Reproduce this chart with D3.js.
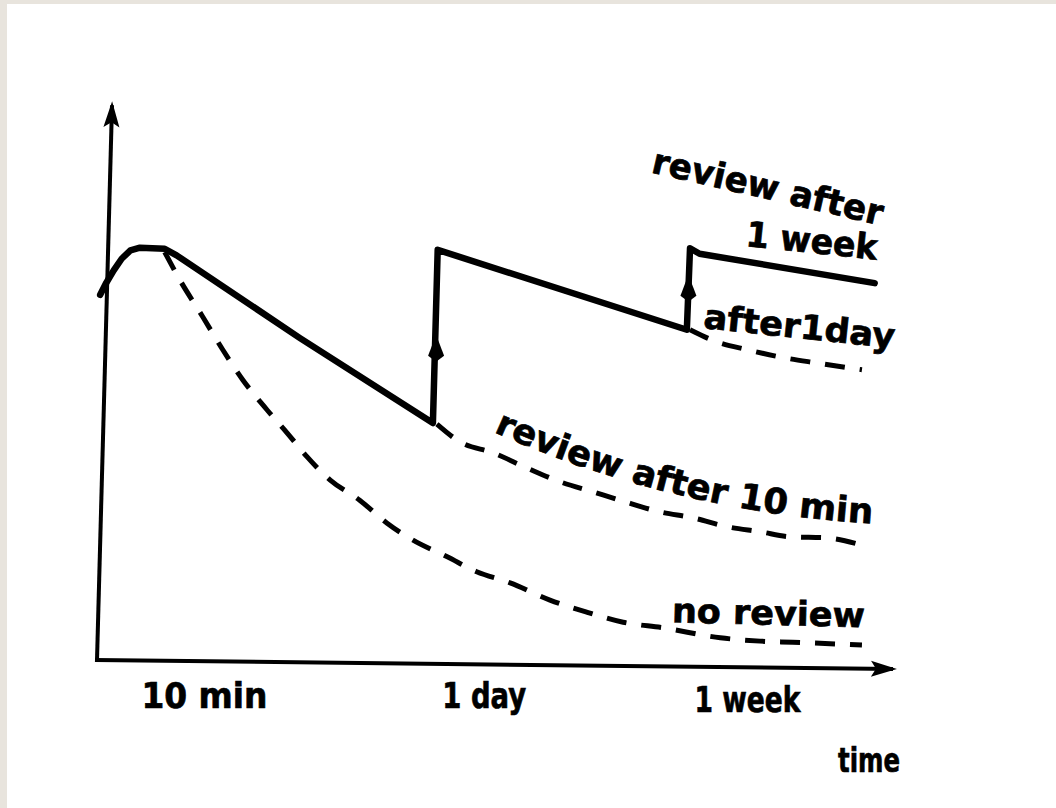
<!DOCTYPE html>
<html>
<head>
<meta charset="utf-8">
<script src="https://cdn.jsdelivr.net/npm/d3@7"></script>
<style>
  html, body { margin: 0; padding: 0; background: #e8e4dd; }
  svg { display: block; }
  text { font-family: "DejaVu Sans", "Liberation Sans", sans-serif; font-weight: bold; fill: #000; stroke: #000; stroke-width: 0.7px; }
</style>
</head>
<body>
<script>
// ---------- data (time in arbitrary plot units, retention in %) ----------
const tickTimes  = [0.54, 4.28, 7.45];
const tickLabels = ["10 min", "1 day", "1 week"];
const axisTitle  = "time";

// solid: learning + reviews after 10 min, 1 day, 1 week
const reviewedCurve = [
  [0.04, 65.8], [0.11, 67.8], [0.21, 70.2], [0.31, 72.3], [0.42, 73.8],
  [0.54, 74.3], [0.85, 74.1], [1.00, 72.9],
  [2.55, 58.0], [4.22, 42.7], [4.28, 73.9], [7.41, 59.5], [7.45, 74.2],
  [7.57, 73.2], [9.77, 67.9]
];
// dashed: no review
const noReview = [
  [0.85, 73.5], [1.04, 68.5], [1.33, 61.8], [1.58, 55.9], [1.83, 50.5],
  [2.14, 45.0], [2.39, 40.9], [2.64, 36.6], [2.93, 32.4], [3.30, 28.8],
  [3.64, 24.7], [3.97, 21.6], [4.40, 18.6], [4.77, 15.9], [5.19, 13.9],
  [5.69, 10.8], [6.16, 8.6], [6.61, 6.8], [7.11, 5.8], [7.83, 4.0],
  [8.33, 3.4], [8.74, 3.2], [9.61, 2.7]
];
// dashed: review after 10 min only
const after10Min = [
  [4.27, 42.5], [4.56, 39.3], [4.98, 37.3], [5.40, 34.6], [5.82, 32.1],
  [6.23, 30.3], [6.57, 28.8], [7.07, 26.7], [7.49, 25.6], [7.92, 24.0],
  [8.33, 23.1], [8.71, 22.2], [9.17, 22.0], [9.61, 20.7]
];
// dashed: review after 1 day (no week review)
const after1Day = [
  [7.45, 59.5], [7.79, 57.3], [8.17, 55.9], [8.58, 54.6], [9.05, 53.5], [9.61, 52.3]
];
// upward arrow marks on the review jumps
const jumpMarks = [[4.26, 55.9], [7.43, 66.7]];

const curveLabels = ["review after", "1 week", "after1day", "review after 10 min", "no review"];

// ---------- drawing ----------
const W = 1056, H = 808;
const svg = d3.select("body").append("svg").attr("width", W).attr("height", H);
svg.append("rect").attr("width", W).attr("height", H).attr("fill", "#e8e4dd");
svg.append("rect").attr("x", 7).attr("y", 4).attr("width", W - 7).attr("height", H - 4).attr("fill", "#fff");

const x = d3.scaleLinear().domain([0, 10]).range([97, 893]);
const y = d3.scaleLinear().domain([0, 100]).range([660, 105]);

const defs = svg.append("defs");
defs.append("marker")
  .attr("id", "axisArrow")
  .attr("markerUnits", "userSpaceOnUse")
  .attr("viewBox", "-2 -10 30 20")
  .attr("markerWidth", 30).attr("markerHeight", 20)
  .attr("refX", 22).attr("refY", 0)
  .attr("orient", "auto")
  .append("path").attr("d", "M0,-8 L26,0 L0,8 L5,0 Z").attr("fill", "#000");

// axes lines (scan is slightly tilted)
const axisLine = d3.line();
svg.append("path")
  .attr("d", axisLine([[x(0), y(0) + 2], [x(0), y(100)]]))
  .attr("transform", `rotate(1.55, ${x(0)}, ${y(0)})`)
  .attr("stroke", "#000").attr("stroke-width", 4).attr("fill", "none")
  .attr("marker-end", "url(#axisArrow)");
svg.append("path")
  .attr("d", axisLine([[x(0) - 2, y(0)], [x(10), y(0)]]))
  .attr("transform", `rotate(0.65, ${x(0)}, ${y(0)})`)
  .attr("stroke", "#000").attr("stroke-width", 4).attr("fill", "none")
  .attr("marker-end", "url(#axisArrow)");

// tick labels through d3 axis
const xAxis = d3.axisBottom(x)
  .tickValues(tickTimes)
  .tickFormat((d, i) => tickLabels[i])
  .tickSize(0);
const gx = svg.append("g").attr("transform", `translate(0, ${y(0)})`).call(xAxis);
gx.select(".domain").remove();
const tickLens = [126, 84, 106];
const tickDx = [1, 4, 4];
const tickY = [48, 48, 52];
gx.selectAll(".tick text")
  .attr("y", (d, i) => tickY[i]).attr("dy", 0)
  .attr("dx", (d, i) => tickDx[i])
  .attr("text-anchor", "start")
  .attr("font-size", 35)
  .attr("font-family", "DejaVu Sans")
  .attr("font-weight", "bold")
  .attr("fill", "#000")
  .attr("textLength", (d, i) => tickLens[i])
  .attr("lengthAdjust", "spacingAndGlyphs");

svg.append("text")
  .attr("x", x(9.31)).attr("y", y(-20.2))
  .attr("font-size", 33)
  .attr("textLength", 62).attr("lengthAdjust", "spacingAndGlyphs")
  .text(axisTitle);

// curves
const solidLine = d3.line().x(d => x(d[0])).y(d => y(d[1])).curve(d3.curveLinear);
const dashLine = d3.line().x(d => x(d[0])).y(d => y(d[1])).curve(d3.curveMonotoneX);

[noReview, after10Min, after1Day].forEach(series => {
  svg.append("path")
    .attr("d", dashLine(series))
    .attr("fill", "none").attr("stroke", "#000")
    .attr("stroke-width", 5)
    .attr("stroke-dasharray", "20 15")
    .attr("stroke-linecap", "butt");
});

svg.append("path")
  .attr("d", solidLine(reviewedCurve))
  .attr("fill", "none").attr("stroke", "#000")
  .attr("stroke-width", 6.5)
  .attr("stroke-linejoin", "round")
  .attr("stroke-linecap", "round");

svg.selectAll(".jumpMark").data(jumpMarks).join("path")
  .attr("class", "jumpMark")
  .attr("transform", d => `translate(${x(d[0])}, ${y(d[1])})`)
  .attr("d", "M0,-15 L8,6 L0,12 L-8,6 Z")
  .attr("fill", "#000");

// curve labels
function label(text, t, r, angle, size, len) {
  svg.append("text")
    .attr("transform", `translate(${x(t)}, ${y(r)}) rotate(${angle})`)
    .attr("font-size", size)
    .attr("textLength", len).attr("lengthAdjust", "spacingAndGlyphs")
    .text(text);
}
label(curveLabels[0], 6.95, 87.9, 13, 35, 236);
label(curveLabels[1], 8.14, 74.6, 6, 35, 132);
label(curveLabels[2], 7.61, 59.8, 6, 34, 192);
label(curveLabels[4], 7.22, 6.8, 1.5, 34, 193);

// "review after 10 min" follows the curve
defs.append("path")
  .attr("id", "after10Path")
  .attr("d", `M${x(4.98)},${y(41.1)} Q${x(7.27)},${y(26.5)} ${x(9.84)},${y(24.5)}`);
svg.append("text")
  .attr("font-size", 35)
  .attr("textLength", 392).attr("lengthAdjust", "spacingAndGlyphs")
  .append("textPath")
  .attr("href", "#after10Path")
  .text(curveLabels[3]);
</script>
</body>
</html>
